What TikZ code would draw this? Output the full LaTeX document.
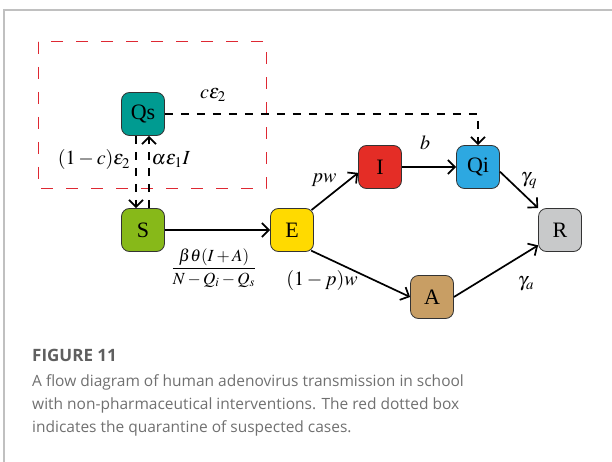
\documentclass[tikz,border=0pt]{standalone}
\usepackage{mathptmx}
\usepackage{fontspec}
\setmainfont{Liberation Serif}
\newfontfamily\capfont{Open Sans}
\usepackage{xcolor}
\usepackage{tikz}
\usetikzlibrary{arrows.meta}

\definecolor{qscol}{RGB}{0,155,145}
\definecolor{scol}{RGB}{135,185,25}
\definecolor{ecol}{RGB}{255,218,0}
\definecolor{icol}{RGB}{228,45,38}
\definecolor{qicol}{RGB}{45,168,225}
\definecolor{rcol}{RGB}{200,201,202}
\definecolor{acol}{RGB}{200,158,100}
\definecolor{quarred}{RGB}{222,40,50}
\definecolor{framegray}{RGB}{192,192,192}
\definecolor{capgray}{RGB}{112,112,112}

\tikzset{
  comp/.style={draw=black!80, line width=0.8pt, rounded corners=8pt,
    minimum width=43pt, minimum height=43pt, inner sep=0pt,
    font=\fontsize{22}{24}\selectfont},
  flow/.style={line width=1.7pt,
    -{Straight Barb[length=7pt,width=14pt,line width=1.7pt]}},
  qflow/.style={flow, dash pattern=on 8pt off 8pt},
  quar/.style={draw=quarred, line width=1pt, dash pattern=on 12pt off 13pt},
  lab/.style={font=\fontsize{20}{22}\selectfont, inner sep=0pt}
}

\begin{document}
\begin{tikzpicture}[x=1pt,y=1pt,yscale=-1,xscale=1]
\useasboundingbox (0,0) rectangle (612,462);

%Straight Lines: frame
\draw [framegray, line width=1.2pt] (612,10) -- (4,10) -- (4,462);

%Shape: Rectangle, quarantine box
\draw [quar] (38,42) rectangle (266,189);

%Shape: Rounded Rectangles
\node [comp, fill=qscol] (Qs) at (143,114) {Qs};
\node [comp, fill=scol] (S) at (143,230) {S};
\node [comp, fill=ecol] (E) at (292,230) {E};
\node [comp, fill=icol] (I) at (380,167) {I};
\node [comp, fill=qicol] (Qi) at (478,167) {Qi};
\node [comp, fill=rcol] (R) at (560,230) {R};
\node [comp, fill=acol] (A) at (432,297) {A};

%Straight Lines
\draw [flow] (S) -- (E);
\draw [flow, shorten <=-3pt] (E.north east) -- (I.195);
\draw [flow, shorten <=-3pt] (E.south east) -- (A.west);
\draw [flow] (I) -- (Qi);
\draw [flow] (Qi.-12) -- (R.north west);
\draw [flow] (A.east) -- (R.215);

%Dashed Lines
\draw [qflow] (Qs.east) -| (Qi.north);
\draw [qflow] ([xshift=6pt]S.north) -- ([xshift=6pt]Qs.south);
\draw [qflow] ([xshift=-7pt]Qs.south) -- ([xshift=-7pt]S.north);

% Text Node
\node [lab] (ce) at (213,95) {$c\varepsilon_2$};
% Text Node
\node [lab] (cq) at (94,160) {$(1-c)\varepsilon_2$};
% Text Node
\node [lab] (ae) at (171,160) {$\alpha\varepsilon_1 I$};
% Text Node
\node [lab, font=\fontsize{17}{19}\selectfont] (bt) at (214,268) {$\displaystyle\frac{\beta\theta(I+A)}{N-Q_i-Q_s}$};
% Text Node
\node [lab] (pw) at (324,180) {$pw$};
% Text Node
\node [lab] (qw) at (322,280) {$(1-p)w$};
% Text Node
\node [lab] (b) at (425,143) {$b$};
% Text Node
\node [lab] (gq) at (529,181) {$\gamma_q$};
% Text Node
\node [lab] (ga) at (526,284) {$\gamma_a$};

% Caption
\node [anchor=base west, inner sep=0pt, text=capgray!85!black, font=\capfont\bfseries\fontsize{17}{20}\selectfont] (fig) at (32,361) {FIGURE 11};
\node [anchor=base west, inner sep=0pt, text=capgray, font=\capfont\fontsize{15.5}{20}\selectfont] (cap1) at (32,386) {A flow diagram of human adenovirus transmission in school};
\node [anchor=base west, inner sep=0pt, text=capgray, font=\capfont\fontsize{15.5}{20}\selectfont] (cap2) at (32,409) {with non-pharmaceutical interventions. The red dotted box};
\node [anchor=base west, inner sep=0pt, text=capgray, font=\capfont\fontsize{15.5}{20}\selectfont] (cap3) at (32,432) {indicates the quarantine of suspected cases.};

\end{tikzpicture}
\end{document}
